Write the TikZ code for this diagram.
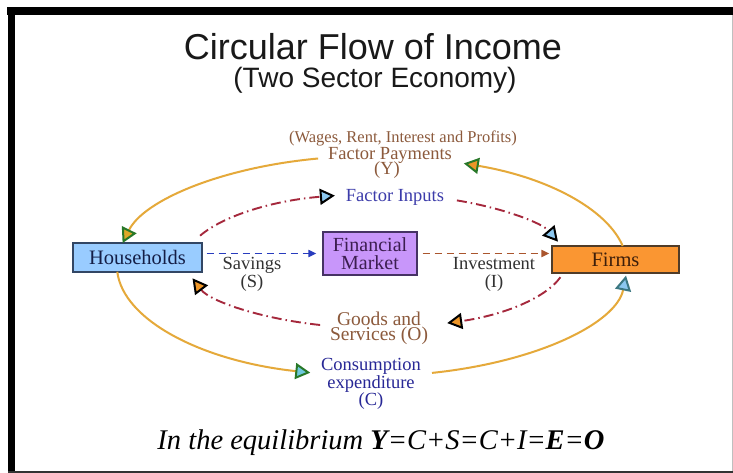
\documentclass[tikz,border=0pt]{standalone}
\usepackage{fontspec}
\setmainfont{Liberation Serif}
\newfontfamily\titlefont{Liberation Sans}
\usetikzlibrary{arrows.meta,calc}
\definecolor{outerc}{RGB}{229,169,58}
\definecolor{innerc}{RGB}{165,40,60}
\definecolor{hhfill}{RGB}{153,204,255}
\definecolor{hhdraw}{RGB}{50,70,100}
\definecolor{hhtext}{RGB}{20,30,70}
\definecolor{fmfill}{RGB}{200,150,250}
\definecolor{fmdraw}{RGB}{70,50,100}
\definecolor{fmtext}{RGB}{60,30,80}
\definecolor{fifill}{RGB}{250,150,50}
\definecolor{fidraw}{RGB}{80,60,40}
\definecolor{fitext}{RGB}{60,30,10}
\definecolor{brownt}{RGB}{140,90,60}
\definecolor{bluet}{RGB}{60,60,170}
\definecolor{navyt}{RGB}{40,40,150}
\definecolor{grayt}{RGB}{50,50,50}
\definecolor{savc}{RGB}{40,60,190}
\definecolor{invc}{RGB}{170,85,45}
\definecolor{tgreen}{RGB}{40,120,40}
\definecolor{torange}{RGB}{238,150,40}
\definecolor{tgold}{RGB}{222,168,40}
\definecolor{tcyan}{RGB}{110,200,220}
\definecolor{tlblue}{RGB}{140,200,240}
\definecolor{tteal}{RGB}{60,120,130}
\tikzset{
  tGO/.tip={Triangle[length=15pt,width=16pt,line width=2pt,color=tgreen,fill=torange]},
  tGG/.tip={Triangle[length=15pt,width=16pt,line width=2pt,color=tgreen,fill=tgold]},
  tGC/.tip={Triangle[length=15pt,width=16pt,line width=2pt,color=tgreen,fill=tcyan]},
  tTB/.tip={Triangle[length=15pt,width=16pt,line width=2pt,color=tteal,fill=tlblue]},
  tKB/.tip={Triangle[length=15pt,width=16pt,line width=2pt,color=black,fill=tlblue]},
  tKO/.tip={Triangle[length=15pt,width=16pt,line width=2pt,color=black,fill=torange]},
  box/.style={draw, line width=1.2pt, inner sep=0pt, align=center},
  outerline/.style={draw=outerc, line width=2pt},
  innerline/.style={draw=innerc, line width=1.9pt, dash pattern=on 10pt off 4pt on 1.5pt off 4pt},
  lbl/.style={font=\fontsize{18.5}{15}\selectfont, align=center, inner sep=0pt},
  flowarrow/.style={line width=1.8pt, dash pattern=on 7pt off 5pt},
}
\begin{document}
\begin{tikzpicture}[x=1pt,y=1pt]
\useasboundingbox (0,0) rectangle (733,-473);
\fill[white] (0,0) rectangle (733,-473);
% frame
\fill[black] (7,-7.5) rectangle (733,-15.5);
\fill[black] (8,-7.5) rectangle (15,-473);
\fill[black!80] (8,-470.7) rectangle (733,-473);
\draw[black!25, line width=0.8pt] (732.4,-15.5) -- (732.4,-470.7);

% titles
\node[inner sep=0pt, font=\titlefont\fontsize{36}{40}\selectfont, text=black!90] (title) at (373,-47) {Circular Flow of Income};
\node[inner sep=0pt, font=\titlefont\fontsize{28}{32}\selectfont, text=black!90] (subtitle) at (375,-80) {(Two Sector Economy)};

% boxes
\node[box, draw=hhdraw, fill=hhfill, text=hhtext, minimum width=129pt, minimum height=29pt,
      font=\fontsize{20.5}{22}\selectfont] (hh) at (137.5,-257.5) {Households};
\node[box, draw=fmdraw, fill=fmfill, text=fmtext, minimum width=94pt, minimum height=43pt,
      font=\fontsize{20}{18.5}\selectfont] (fm) at (370,-253.5) {Financial\\Market};
\node[box, draw=fidraw, fill=fifill, text=fitext, minimum width=127pt, minimum height=27pt,
      font=\fontsize{20.5}{22}\selectfont] (firms) at (615.5,-259.5) {Firms};

% labels
\node[lbl, text=brownt, font=\fontsize{16.5}{18}\selectfont] (wages) at (403,-138.5) {(Wages, Rent, Interest and Profits)};
\node[lbl, text=brownt] (fp) at (390,-155) {Factor Payments};
\node[lbl, text=brownt] (ylab) at (387,-170.5) {(Y)};
\node[lbl, text=bluet] (fi) at (395,-197) {Factor Inputs};
\node[lbl, text=grayt, font=\fontsize{18.5}{18}\selectfont] (sav) at (252,-274) {Savings\\(S)};
\node[lbl, text=grayt, font=\fontsize{18.5}{18}\selectfont] (inv) at (494,-274) {Investment\\(I)};
\node[lbl, text=brownt, font=\fontsize{19.5}{15}\selectfont] (goods) at (379,-328) {Goods and\\Services (O)};
\node[lbl, text=navyt, font=\fontsize{18.5}{14.5}\selectfont] (cons) at (371,-384) {Consumption\\expenditure\\(C)};
\node[inner sep=0pt, font=\fontsize{28.5}{32}\selectfont\itshape] (eq) at (381,-443)
  {In the equilibrium \textbf{Y}=C+S=C+I=\textbf{E}=\textbf{O}};

% outer loop coordinates
\coordinate (oA) at (622.7,-246.0);
\coordinate (oB) at (463.8,-163.4);
\coordinate (oC) at (318.1,-158.5);
\coordinate (oD) at (122.6,-243.1);
\coordinate (oE) at (117.3,-271.8);
\coordinate (oF) at (310.3,-372.7);
\coordinate (oG) at (432.0,-372.9);
\coordinate (oH) at (626.0,-275.6);
% inner loop coordinates
\coordinate (iA) at (200.1,-235.7);
\coordinate (iB) at (334.9,-195.6);
\coordinate (iC) at (456.9,-200.4);
\coordinate (iD) at (558.0,-241.7);
\coordinate (iE) at (560.4,-277.2);
\coordinate (iF) at (447.2,-323.1);
\coordinate (iG) at (320.1,-325.0);
\coordinate (iH) at (192.5,-278.3);

% outer loop (money flow)
\draw[outerline, -tGO] (oA) .. controls (606.6,-208.4) and (546.4,-177.2) .. (oB);
\draw[outerline, -tGG] (oC) .. controls (220.0,-167.6) and (143.5,-200.7) .. (oD);
\draw[outerline, -tGC] (oE) .. controls (123.2,-320.1) and (201.5,-361.0) .. (oF);
\draw[outerline, -tTB] (oG) .. controls (538.4,-361.8) and (616.5,-322.7) .. (oH);

% inner loop (real flow)
\draw[innerline, -tKB] (iA) .. controls (223.7,-215.4) and (274.0,-200.4) .. (iB);
\draw[innerline, -tKB] (iC) .. controls (505.7,-208.5) and (542.5,-223.5) .. (iD);
\draw[innerline, -tKO] (iE) .. controls (545.7,-298.0) and (503.6,-315.1) .. (iF);
\draw[innerline, -tKO] (iG) .. controls (257.6,-318.2) and (209.4,-300.6) .. (iH);

% savings and investment
\draw[flowarrow, savc, -{Triangle[length=8pt,width=7pt]}, shorten <=4pt, shorten >=6pt]
  (hh.east |- fm.west) -- (fm.west);
\draw[flowarrow, invc, -{Triangle[length=8pt,width=7pt]}, shorten <=5pt, shorten >=2pt]
  (fm.east) -- (fm.east -| firms.west);
\end{tikzpicture}
\end{document}
